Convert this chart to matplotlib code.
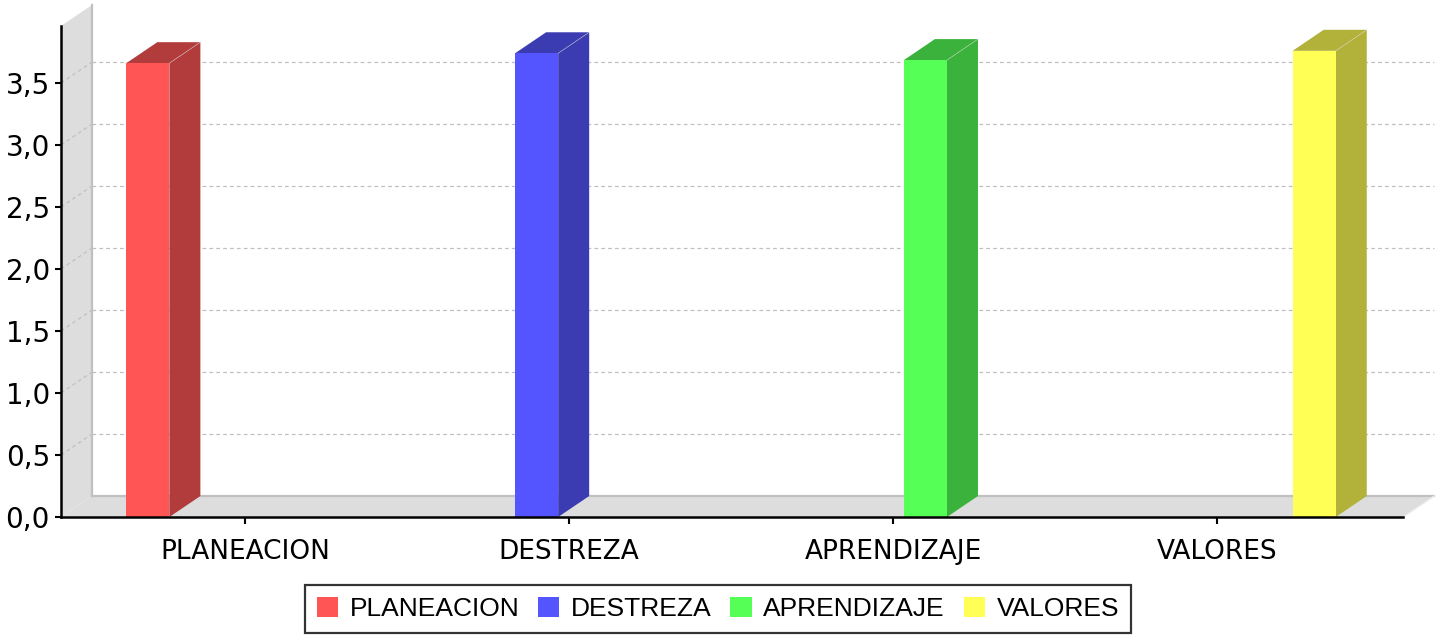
import matplotlib
matplotlib.use("Agg")
import matplotlib.pyplot as plt
from matplotlib.patches import Patch, Polygon

# chart data
categories = ["PLANEACION", "DESTREZA", "APRENDIZAJE", "VALORES"]
series = ["PLANEACION", "DESTREZA", "APRENDIZAJE", "VALORES"]
values = [3.66, 3.74, 3.685, 3.76]  # one bar per category, in its own series slot
y_ticks = [0.0, 0.5, 1.0, 1.5, 2.0, 2.5, 3.0, 3.5]

front_colors = ["#FF5555", "#5555FF", "#55FF55", "#FFFF55"]
side_colors = ["#B23B3B", "#3B3BB2", "#3BB23B", "#B2B23B"]

W, H = 1440, 637
DEPTH_PX = (31, 21)  # 3D offset of the back plane
WALL = "#DDDDDD"
EDGE = "#C0C0C0"


def main() -> None:
    fig = plt.figure(figsize=(W / 100, H / 100), dpi=100)
    left, right, top, bottom = 61, 1403, 26, 517
    ax = fig.add_axes([left / W, 1 - bottom / H, (right - left) / W, (bottom - top) / H])
    x0, x1 = -0.568, 3.574
    y0, y1 = 0.0, 3.96
    ax.set_xlim(x0, x1)
    ax.set_ylim(y0, y1)

    # depth in data units
    dx = DEPTH_PX[0] * (x1 - x0) / (right - left)
    dy = DEPTH_PX[1] * (y1 - y0) / (bottom - top)

    # walls
    ax.add_patch(Polygon([(x0, y0), (x0, y1), (x0 + dx, y1 + dy), (x0 + dx, y0 + dy)],
                         closed=True, fc=WALL, ec="none", clip_on=False, zorder=0))
    ax.add_patch(Polygon([(x0, y0), (x1, y0), (x1 + dx, y0 + dy), (x0 + dx, y0 + dy)],
                         closed=True, fc=WALL, ec="none", clip_on=False, zorder=0))
    ax.plot([x0 + dx, x0 + dx], [y0 + dy, y1 + dy], color=EDGE, lw=1.6, clip_on=False, zorder=1)
    ax.plot([x0 + dx, x1 + dx], [y0 + dy, y0 + dy], color=EDGE, lw=1.6, clip_on=False, zorder=1)
    ax.plot([x1, x1 + dx], [y0, y0 + dy], color="#E8E8E8", lw=1.0, clip_on=False, zorder=1)

    # gridlines on the back wall and the side wall
    for yv in y_ticks[1:]:
        ax.plot([x0 + dx, x1 + dx], [yv + dy, yv + dy], color=EDGE, lw=0.9,
                dashes=(3, 2.5), clip_on=False, zorder=1)
        ax.plot([x0, x0 + dx], [yv, yv + dy], color=EDGE, lw=0.9,
                dashes=(3, 2.5), clip_on=False, zorder=1)

    # bars
    n = len(series)
    slot = 0.2
    width = 0.133
    for ci, cat in enumerate(categories):
        si = series.index(cat)
        v = values[ci]
        xa = ci + (si - (n - 1) / 2) * slot - width / 2
        xb = xa + width
        ax.add_patch(Polygon([(xb, 0), (xb + dx, dy), (xb + dx, v + dy), (xb, v)],
                             closed=True, fc=side_colors[si], ec="none", clip_on=False, zorder=3))
        ax.add_patch(Polygon([(xa, v), (xa + dx, v + dy), (xb + dx, v + dy), (xb, v)],
                             closed=True, fc=side_colors[si], ec="none", clip_on=False, zorder=3))
        ax.plot([xb, xb + dx], [v, v + dy], color="#D8D8D8", lw=0.5, alpha=0.6, zorder=4, clip_on=False)
        ax.add_patch(Polygon([(xa, 0), (xb, 0), (xb, v), (xa, v)],
                             closed=True, fc=front_colors[si], ec="none", clip_on=False, zorder=4))

    # axes styling
    for side in ("top", "right"):
        ax.spines[side].set_visible(False)
    for side in ("left", "bottom"):
        ax.spines[side].set_color("black")
        ax.spines[side].set_linewidth(1.8)
        ax.spines[side].set_zorder(5)
    ax.patch.set_visible(False)

    ax.set_yticks(y_ticks)
    ax.set_yticklabels([f"{t:.1f}".replace(".", ",") for t in y_ticks], fontsize=20)
    ax.set_xticks(range(len(categories)))
    ax.set_xticklabels(categories, fontsize=19)
    ax.tick_params(axis="y", length=4.5, width=1.5, pad=3.5)
    ax.tick_params(axis="x", length=5, width=1.5, pad=11)

    handles = [Patch(facecolor=c, edgecolor="none") for c in front_colors]
    leg = fig.legend(handles, series, loc="center", bbox_to_anchor=(718 / W, 1 - 609 / H),
                     ncol=4, frameon=True, fancybox=False,
                     prop={"family": "Liberation Sans", "size": 19},
                     handlelength=0.8, handleheight=0.8, handletextpad=0.45,
                     columnspacing=0.7, borderpad=0.45, borderaxespad=0)
    leg.get_frame().set_edgecolor("black")
    leg.get_frame().set_linewidth(1.6)

    fig.savefig("out.png", dpi=100)
    plt.close(fig)


if __name__ == "__main__":
    main()
